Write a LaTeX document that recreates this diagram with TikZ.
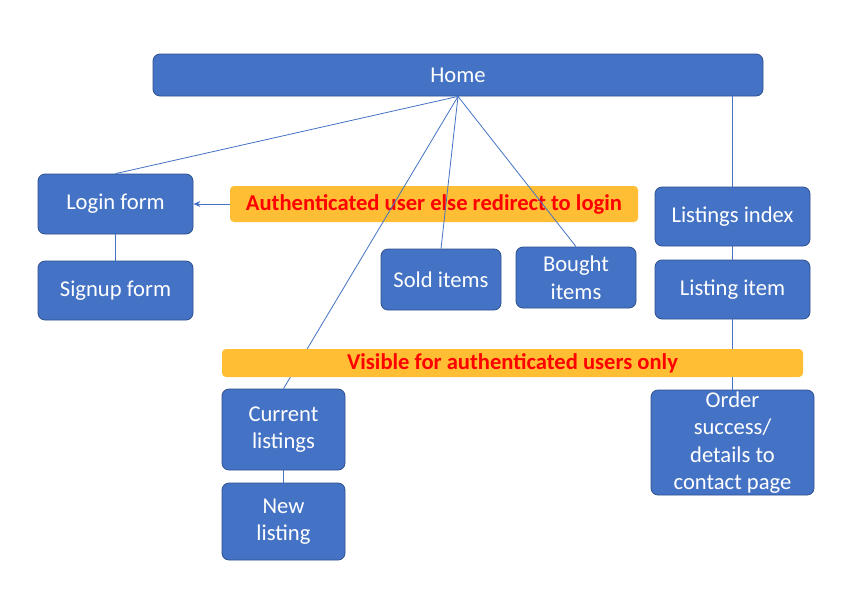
\documentclass[tikz,border=0pt]{standalone}
\usepackage{fontspec}
\setmainfont{Carlito}
\usetikzlibrary{arrows.meta}
\definecolor{boxblue}{HTML}{4472C4}
\definecolor{boxedge}{HTML}{2F528F}
\definecolor{banner}{HTML}{FFBE33}
\definecolor{redtxt}{HTML}{FF0000}
\tikzset{
  page/.style={x=1pt,y=-1pt},
  bluebox/.style={draw=boxedge, line width=0.8pt, fill=boxblue, rounded corners=7pt,
    text=white, inner sep=0pt, align=center,
    font=\fontsize{22.6}{27.5}\selectfont},
  bannerbox/.style={fill=banner, rounded corners=4pt, inner sep=0pt,
    text=redtxt, font=\fontsize{22.6}{26}\selectfont\bfseries},
  link/.style={draw=boxblue, line width=0.8pt}
}
\begin{document}
\begin{tikzpicture}[page]
\useasboundingbox (0,0) rectangle (846,606);
\fill[white] (0,0) rectangle (846,606);
% boxes
\node[bluebox, minimum width=610pt, minimum height=42pt] (home) at (458,75) {Home};
\node[bluebox, minimum width=155pt, minimum height=60pt] (login) at (115.5,204) {Login form};
\node[bluebox, minimum width=155pt, minimum height=59pt] (signup) at (115.5,290.5) {Signup form};
\node[bluebox, minimum width=120pt, minimum height=61pt] (sold) at (441,279.5) {Sold items};
\node[bluebox, minimum width=120pt, minimum height=61pt] (bought) at (576,277.5) {Bought\\items};
\node[bluebox, minimum width=155pt, minimum height=59pt] (lidx) at (732.5,216.5) {Listings index};
\node[bluebox, minimum width=155pt, minimum height=59pt] (litem) at (732.5,289.5) {Listing item};
\node[bluebox, minimum width=123pt, minimum height=81pt] (cur) at (283.5,429.5) {Current\\listings};
\node[bluebox, minimum width=123pt, minimum height=77pt] (new) at (283.5,521.5) {New\\listing};
\node[bluebox, minimum width=163pt, minimum height=105pt] (order) at (732.5,442.5) {Order\\success/\\details to\\contact page};
% auth banner (below lines)
\node[bannerbox, minimum width=408pt, minimum height=36pt] (auth) at (434,204) {Authenticated user else redirect to login};
% connectors
\draw[link] (home.south) -- (login.north);
\draw[link] (home.south) -- (cur.north);
\draw[link] (home.south) -- (sold.north);
\draw[link] (home.south) -- (bought.north);
\draw[link] (lidx.north |- home.south) -- (lidx.north);
\draw[link] (lidx.south) -- (litem.north);
\draw[link] (litem.south) -- (order.north);
\draw[link] (login.south) -- (signup.north);
\draw[link] (cur.south) -- (new.north);
\draw[link, -{Stealth[length=7pt,width=6pt]}] (auth.west) -- (login.east);
% visible banner (above lines)
\node[bannerbox, minimum width=581pt, minimum height=28pt] (vis) at (512.5,363) {Visible for authenticated users only};
\end{tikzpicture}
\end{document}
